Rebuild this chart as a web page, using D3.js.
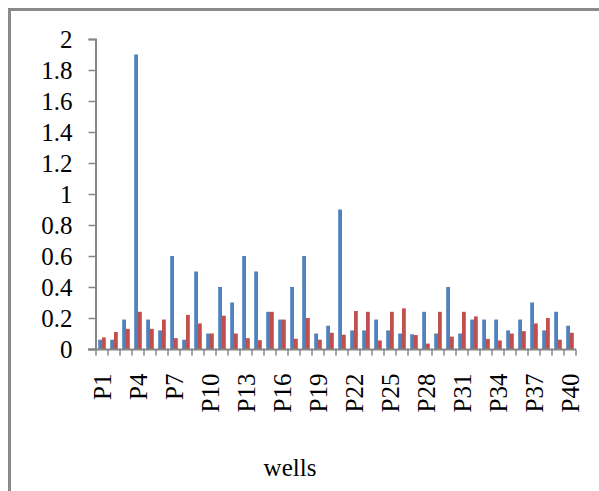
<!DOCTYPE html>
<html lang="en">
<head>
<meta charset="utf-8">
<style>
  body { margin: 0; background: #fff; }
  svg text { font-family: "Liberation Serif", "Times New Roman", serif; fill: #000; }
</style>
</head>
<body>
<svg width="599" height="491"></svg>
<script src="https://d3js.org/d3.v7.min.js"></script>
<script>
// wells P1..P40
var wells = d3.range(1, 41).map(function(i) { return "P" + i; });

// blue series
var seriesA = [0.06, 0.06, 0.19, 1.9, 0.19, 0.12, 0.6, 0.06, 0.5, 0.1,
               0.4, 0.3, 0.6, 0.5, 0.24, 0.19, 0.4, 0.6, 0.1, 0.15,
               0.9, 0.12, 0.12, 0.19, 0.12, 0.1, 0.095, 0.24, 0.1, 0.4,
               0.1, 0.19, 0.19, 0.19, 0.12, 0.19, 0.3, 0.12, 0.24, 0.15];

// red series
var seriesB = [0.075, 0.11, 0.13, 0.24, 0.13, 0.19, 0.07, 0.22, 0.165, 0.1,
               0.215, 0.1, 0.07, 0.057, 0.24, 0.19, 0.066, 0.2, 0.06, 0.105,
               0.092, 0.245, 0.24, 0.055, 0.24, 0.262, 0.09, 0.035, 0.24, 0.08,
               0.24, 0.21, 0.065, 0.055, 0.1, 0.115, 0.165, 0.2, 0.06, 0.105];

var yTicks = [0, 0.2, 0.4, 0.6, 0.8, 1, 1.2, 1.4, 1.6, 1.8, 2];
var yTickLabels = ["0", "0.2", "0.4", "0.6", "0.8", "1", "1.2", "1.4", "1.6", "1.8", "2"];

var svg = d3.select("svg");

// chart frame (only top/left edges show in the crop)
svg.append("rect")
    .attr("x", 9.5).attr("y", 9.5)
    .attr("width", 620).attr("height", 520)
    .attr("fill", "none")
    .attr("stroke", "#8a8a8a")
    .attr("stroke-width", 3);

var x = d3.scaleBand().domain(wells).range([96, 576]);
var x1 = d3.scaleBand().domain(["a", "b"]).range([0, x.bandwidth()]).paddingOuter(0.58);
var y = d3.scaleLinear().domain([0, 2]).range([349, 39]);

var data = wells.map(function(w, i) { return { well: w, a: seriesA[i], b: seriesB[i] }; });

var groups = svg.append("g").selectAll("g")
    .data(data)
    .enter().append("g")
    .attr("transform", function(d) { return "translate(" + x(d.well) + ",0)"; });

groups.append("rect")
    .attr("x", x1("a"))
    .attr("y", function(d) { return y(d.a); })
    .attr("width", x1.bandwidth())
    .attr("height", function(d) { return y(0) - y(d.a); })
    .attr("fill", "#4f81bd");

groups.append("rect")
    .attr("x", x1("b"))
    .attr("y", function(d) { return y(d.b); })
    .attr("width", x1.bandwidth())
    .attr("height", function(d) { return y(0) - y(d.b); })
    .attr("fill", "#c0504d");

// y axis
var yAxis = svg.append("g")
    .attr("transform", "translate(95.5,0)")
    .call(d3.axisLeft(y).tickValues(yTicks).tickSize(7).tickPadding(16)
        .tickFormat(function(d, i) { return yTickLabels[i]; }));
yAxis.select(".domain").attr("stroke", "#868686").attr("stroke-width", 2);
yAxis.selectAll(".tick line").attr("stroke", "#868686").attr("stroke-width", 1.5);
yAxis.selectAll(".tick text").style("font-size", "25px").attr("dy", "0.34em");

// x axis
var xAxis = svg.append("g")
    .attr("transform", "translate(0,349.5)")
    .call(d3.axisBottom(x).tickSize(0).tickPadding(0)
        .tickFormat(function(d, i) { return i % 3 === 0 ? d : ""; }));
xAxis.select(".domain").attr("d", "M88,0H576").attr("stroke", "#868686").attr("stroke-width", 2);
xAxis.selectAll(".tick text")
    .style("font-size", "25px")
    .attr("text-anchor", "end")
    .attr("transform", "rotate(-90)")
    .attr("x", -24)
    .attr("y", 0)
    .attr("dy", "0.35em");

// tick marks at category boundaries
var bounds = wells.map(function(w) { return x(w); }).concat([x.range()[1]]);
xAxis.selectAll(".bound")
    .data(bounds)
    .enter().append("line")
    .attr("class", "bound")
    .attr("x1", function(d) { return d; })
    .attr("x2", function(d) { return d; })
    .attr("y1", 0).attr("y2", 6)
    .attr("stroke", "#868686")
    .attr("stroke-width", 1.5);

svg.append("text")
    .attr("x", 290)
    .attr("y", 476)
    .attr("text-anchor", "middle")
    .style("font-size", "25px")
    .text("wells");
</script>
</body>
</html>
